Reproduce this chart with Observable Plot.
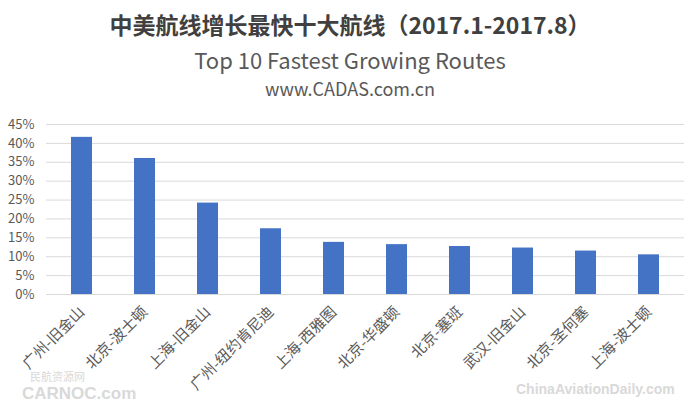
<!DOCTYPE html>
<html>
<head>
<meta charset="utf-8">
<script src="https://cdn.jsdelivr.net/npm/d3@7"></script>
<script src="https://cdn.jsdelivr.net/npm/@observablehq/plot@0.6"></script>
<style>
  body { margin: 0; background: #fff; font-family: "Noto Sans CJK SC", "Noto Sans", sans-serif; }
  #wrap { position: relative; width: 700px; height: 406px; overflow: hidden; }
  #header { position: relative; height: 105px; }
  .t { position: absolute; left: 0; width: 700px; text-align: center; white-space: nowrap; }
  #t1 { top: 7px; font-size: 23px; font-weight: bold; color: #404040; }
  #t2 { top: 43px; font-size: 22px; color: #595959; }
  #t3 { top: 75px; font-size: 18px; color: #595959; }
  .wm { position: absolute; color: #d9d9d9; white-space: nowrap; line-height: 1; font-family: "Liberation Sans", sans-serif; }
</style>
</head>
<body>
<div id="wrap">
  <div id="header">
    <div class="t" id="t1">中美航线增长最快十大航线（2017.1-2017.8）</div>
    <div class="t" id="t2">Top 10 Fastest Growing Routes</div>
    <div class="t" id="t3">www.CADAS.com.cn</div>
  </div>
  <div id="chart"></div>
  <div class="wm" style="left:30px;top:371px;font-size:11px;font-family:'Noto Sans CJK SC';">民航资源网</div>
  <div class="wm" style="left:22px;top:385px;font-size:17px;font-weight:bold;">CARNOC.com</div>
  <div class="wm" style="left:516px;top:382px;font-size:14px;font-weight:bold;">ChinaAviationDaily.com</div>
</div>
<script>
const routes = ["广州-旧金山", "北京-波士顿", "上海-旧金山", "广州-纽约肯尼迪", "上海-西雅图",
                "北京-华盛顿", "北京-塞班", "武汉-旧金山", "北京-圣何塞", "上海-波士顿"];
const growth = [41.6, 36.0, 24.2, 17.4, 13.8, 13.2, 12.7, 12.3, 11.5, 10.5];
const yTicks = [0, 5, 10, 15, 20, 25, 30, 35, 40, 45];

const data = routes.map((r, i) => ({route: r, value: growth[i]}));

const chart = Plot.plot({
  width: 700,
  height: 301,
  marginTop: 19,
  marginBottom: 112,
  marginLeft: 46,
  marginRight: 16,
  style: {fontFamily: '"Noto Sans CJK SC", "Noto Sans", sans-serif', color: "#595959", background: "#fff"},
  x: {domain: routes, paddingInner: 0.67, paddingOuter: 0.335, label: null},
  y: {domain: [0, 45], label: null},
  marks: [
    Plot.gridY(yTicks, {stroke: "#d9d9d9", strokeOpacity: 1, strokeWidth: 1}),
    Plot.barY(data, {x: "route", y: "value", fill: "#4472c4"}),
    Plot.axisY(yTicks, {tickSize: 0, tickPadding: 12, fontSize: 13, fill: "#595959", tickFormat: d => d + "%", label: null}),
    Plot.axisX({tickSize: 0, tickRotate: -45, fontSize: 15, fill: "#595959", tickPadding: 15, label: null})
  ]
});
document.getElementById("chart").appendChild(chart);
</script>
</body>
</html>
